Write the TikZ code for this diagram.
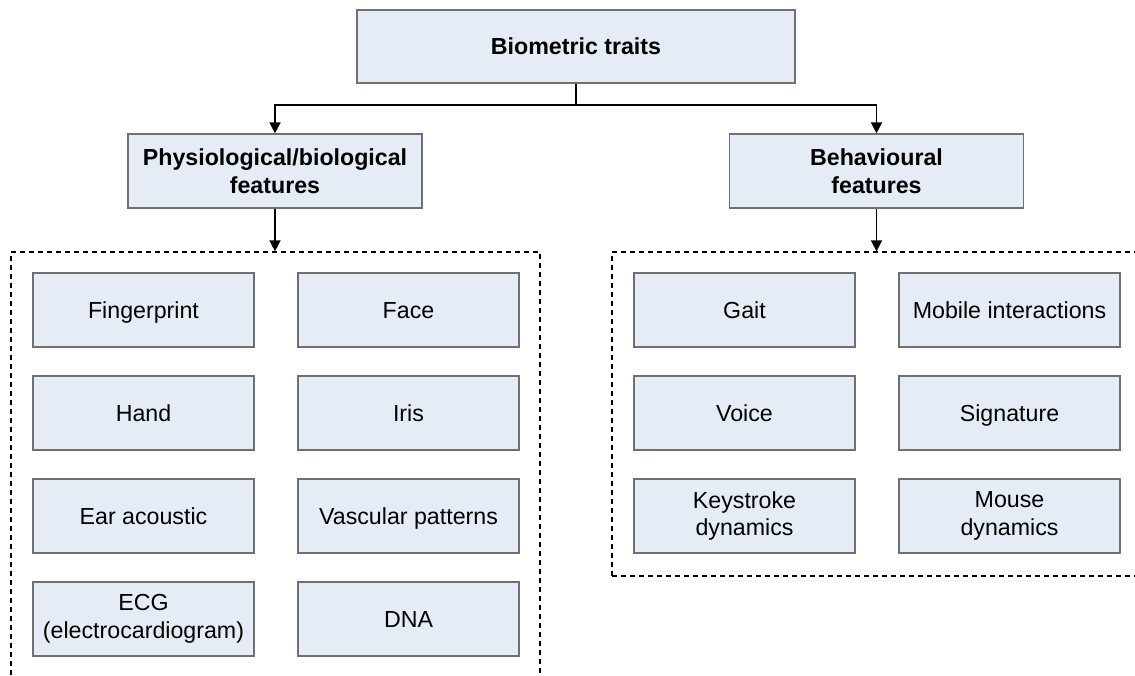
\documentclass[tikz,border=0pt]{standalone}
\usepackage{fontspec}
\setmainfont{Liberation Sans}
\usetikzlibrary{arrows.meta}
\definecolor{boxfill}{RGB}{229,236,246}
\definecolor{boxline}{RGB}{112,112,112}
\tikzset{
  base/.style={rectangle, draw=boxline, line width=1.2pt, fill=boxfill,
    align=center, inner sep=2pt, font=\fontsize{23.2}{27.5}\selectfont},
  leaf/.style={base, minimum width=221pt, minimum height=74pt},
  oneline/.style={text height=16.6pt, text depth=0pt},
  head/.style={base, font=\fontsize{23.2}{27.5}\selectfont\bfseries},
  group/.style={rectangle, draw=black, line width=1.2pt, dash pattern=on 5pt off 4pt},
  link/.style={draw=black, line width=1.5pt, -{Triangle[length=11pt,width=11pt]}}
}
\begin{document}
\begin{tikzpicture}[x=1pt,y=-1pt]
\useasboundingbox (0,0) rectangle (1135,675);
\clip (0,0) rectangle (1135,675);

% dashed group frames
\node[group, minimum width=529pt, minimum height=468pt] (physgroup) at (275.5,486) {};
\node[group, minimum width=529pt, minimum height=324pt] (behavgroup) at (876.5,414) {};

% hierarchy heads
\node[head, oneline, minimum width=438pt, minimum height=73pt] (traits) at (576,46.5) {Biometric traits};
\node[head, minimum width=294pt, minimum height=74pt] (phys) at (275,171) {Physiological/biological\\features};
\node[head, minimum width=294pt, minimum height=74pt] (behav) at (876.5,171) {Behavioural\\features};

% physiological traits
\node[leaf, oneline] (finger) at (143.5,310) {Fingerprint};
\node[leaf, oneline] (face)   at (408.5,310) {Face};
\node[leaf, oneline] (hand)   at (143.5,413) {Hand};
\node[leaf, oneline] (iris)   at (408.5,413) {Iris};
\node[leaf, oneline] (ear)    at (143.5,516) {Ear acoustic};
\node[leaf, oneline] (vasc)   at (408.5,516) {Vascular patterns};
\node[leaf] (ecg)    at (143.5,619) {ECG\\(electrocardiogram)};
\node[leaf, oneline] (dna)    at (408.5,619) {DNA};

% behavioural traits
\node[leaf, oneline] (gait)   at (744.5,310) {Gait};
\node[leaf, oneline] (mobile) at (1009.5,310) {Mobile interactions};
\node[leaf, oneline] (voice)  at (744.5,413) {Voice};
\node[leaf, oneline] (sign)   at (1009.5,413) {Signature};
\node[leaf] (keys)   at (744.5,516) {Keystroke\\dynamics};
\node[leaf] (mouse)  at (1009.5,516) {Mouse\\dynamics};

% connectors
\coordinate (split) at (576,105);
\draw[line width=1.5pt] (traits.south) -- (split);
\draw[link] (split) -| (phys.north);
\draw[link] (split) -| (behav.north);
\draw[link] (phys.south) -- (phys.south |- physgroup.north);
\draw[link] (behav.south) -- (behav.south |- behavgroup.north);
\end{tikzpicture}
\end{document}
